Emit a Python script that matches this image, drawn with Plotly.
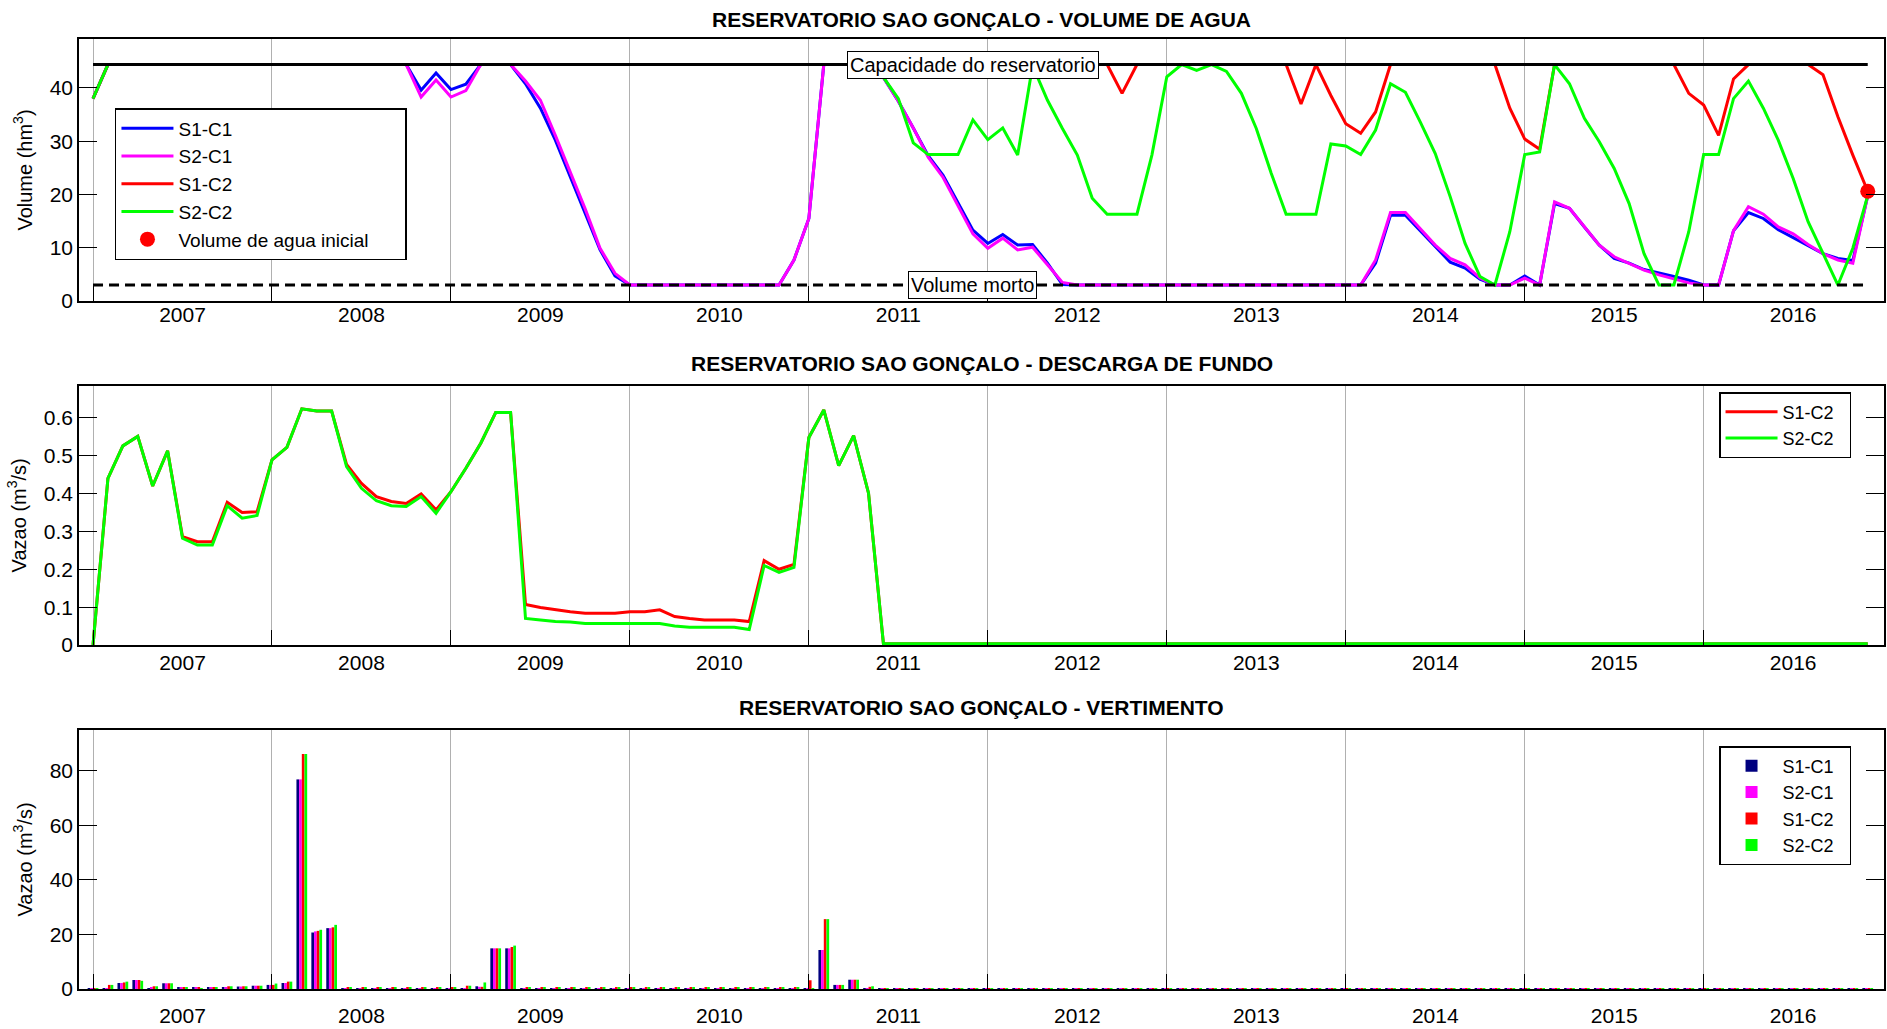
import plotly.graph_objects as go

# ---------------- data ----------------
years = ["2007", "2008", "2009", "2010", "2011", "2012", "2013", "2014", "2015", "2016"]
months = list(range(120))          # month index: 0 = Jan 2007 ... 119 = Dec 2016

capacity = 44.4                    # Capacidade do reservatorio (hm3)
dead_volume = 3.0                  # Volume morto (hm3)
initial_month = [119]
initial_volume = [20.6]

# Volume de agua (hm3)
vol_s1c1 = [
    38.0, 44.4, 44.4, 44.4, 44.4, 44.4, 44.4, 44.4, 44.4, 44.4, 44.4, 44.4,
    44.4, 44.4, 44.4, 44.4, 44.4, 44.4, 44.4, 44.4, 44.4, 44.4, 39.6, 42.8,
    39.7, 40.7, 44.4, 44.4, 44.4, 40.8, 36.2, 30.2, 23.3, 16.4, 9.6, 4.7,
    3.0, 3.0, 3.0, 3.0, 3.0, 3.0, 3.0, 3.0, 3.0, 3.0, 3.0, 7.7,
    15.5, 44.4, 44.4, 44.4, 44.4, 42.0, 37.5, 32.5, 27.3, 23.6, 18.3, 13.3,
    10.8, 12.5, 10.5, 10.6, 7.1, 3.1, 3.0, 3.0, 3.0, 3.0, 3.0, 3.0,
    3.0, 3.0, 3.0, 3.0, 3.0, 3.0, 3.0, 3.0, 3.0, 3.0, 3.0, 3.0,
    3.0, 3.0, 7.1, 16.1, 16.1, 13.2, 10.1, 7.3, 6.2, 4.1, 3.0, 3.0,
    4.7, 3.0, 18.3, 17.4, 13.9, 10.5, 8.0, 7.1, 5.9, 5.3, 4.6, 3.9,
    3.0, 3.0, 13.2, 16.6, 15.5, 13.4, 11.9, 10.3, 8.9, 8.0, 7.6, 19.8,
]
vol_s2c1 = [
    38.0, 44.4, 44.4, 44.4, 44.4, 44.4, 44.4, 44.4, 44.4, 44.4, 44.4, 44.4,
    44.4, 44.4, 44.4, 44.4, 44.4, 44.4, 44.4, 44.4, 44.4, 44.4, 38.3, 41.5,
    38.3, 39.5, 44.4, 44.4, 44.4, 41.3, 37.7, 31.1, 24.2, 17.3, 9.9, 5.2,
    3.0, 3.0, 3.0, 3.0, 3.0, 3.0, 3.0, 3.0, 3.0, 3.0, 3.0, 7.7,
    15.5, 44.4, 44.4, 44.4, 44.4, 42.0, 37.5, 32.5, 27.0, 23.2, 17.9, 12.6,
    9.9, 11.8, 9.6, 10.1, 6.8, 3.5, 3.0, 3.0, 3.0, 3.0, 3.0, 3.0,
    3.0, 3.0, 3.0, 3.0, 3.0, 3.0, 3.0, 3.0, 3.0, 3.0, 3.0, 3.0,
    3.0, 3.0, 7.7, 16.6, 16.6, 13.6, 10.5, 8.0, 6.8, 4.3, 3.0, 3.0,
    4.3, 3.0, 18.6, 17.4, 13.9, 10.5, 8.3, 7.1, 5.8, 4.9, 4.1, 3.4,
    3.0, 3.0, 13.2, 17.7, 16.3, 13.9, 12.6, 10.6, 8.9, 7.7, 7.1, 19.8,
]
vol_s1c2 = [
    38.0, 44.4, 44.4, 44.4, 44.4, 44.4, 44.4, 44.4, 44.4, 44.4, 44.4, 44.4,
    44.4, 44.4, 44.4, 44.4, 44.4, 44.4, 44.4, 44.4, 44.4, 44.4, 44.4, 44.4,
    44.4, 44.4, 44.4, 44.4, 44.4, 44.4, 44.4, 44.4, 44.4, 44.4, 44.4, 44.4,
    44.4, 44.4, 44.4, 44.4, 44.4, 44.4, 44.4, 44.4, 44.4, 44.4, 44.4, 44.4,
    44.4, 44.4, 44.4, 44.4, 44.4, 44.4, 44.4, 44.4, 44.4, 44.4, 44.4, 44.4,
    44.4, 44.4, 44.4, 44.4, 44.4, 44.4, 44.4, 44.4, 44.4, 39.0, 44.4, 44.4,
    44.4, 44.4, 44.4, 44.4, 44.4, 44.4, 44.4, 44.4, 44.4, 37.0, 44.4, 38.6,
    33.3, 31.5, 35.5, 44.4, 44.4, 44.4, 44.4, 44.4, 44.4, 44.4, 44.4, 36.2,
    30.4, 28.5, 44.4, 44.4, 44.4, 44.4, 44.4, 44.4, 44.4, 44.4, 44.4, 39.0,
    36.8, 31.1, 41.7, 44.4, 44.4, 44.4, 44.4, 44.4, 42.5, 34.6, 27.4, 20.6,
]
vol_s2c2 = [
    38.0, 44.4, 44.4, 44.4, 44.4, 44.4, 44.4, 44.4, 44.4, 44.4, 44.4, 44.4,
    44.4, 44.4, 44.4, 44.4, 44.4, 44.4, 44.4, 44.4, 44.4, 44.4, 44.4, 44.4,
    44.4, 44.4, 44.4, 44.4, 44.4, 44.4, 44.4, 44.4, 44.4, 44.4, 44.4, 44.4,
    44.4, 44.4, 44.4, 44.4, 44.4, 44.4, 44.4, 44.4, 44.4, 44.4, 44.4, 44.4,
    44.4, 44.4, 44.4, 44.4, 44.4, 42.0, 38.0, 29.7, 27.5, 27.5, 27.5, 34.0,
    30.3, 32.5, 27.4, 44.2, 37.7, 32.4, 27.4, 19.3, 16.3, 16.3, 16.3, 27.4,
    42.1, 44.4, 43.3, 44.4, 43.1, 39.0, 32.4, 24.0, 16.3, 16.3, 16.3, 29.5,
    29.1, 27.5, 32.1, 40.8, 39.2, 33.6, 27.7, 19.6, 10.8, 4.6, 3.0, 13.0,
    27.5, 28.0, 44.4, 40.8, 34.3, 29.9, 24.9, 18.3, 8.9, 3.0, 3.0, 13.0,
    27.5, 27.5, 38.0, 41.3, 36.2, 30.2, 23.0, 14.9, 8.9, 3.0, 9.9, 19.8,
]

# Descarga de fundo (m3/s)
desc_s1c2 = [
    0.0, 0.44, 0.526, 0.551, 0.42, 0.513, 0.286, 0.273, 0.273, 0.377, 0.350, 0.352,
    0.489, 0.522, 0.624, 0.618, 0.618, 0.477, 0.427, 0.392, 0.379, 0.374, 0.399, 0.357,
    0.405, 0.467, 0.533, 0.614, 0.614, 0.107, 0.099, 0.093, 0.088, 0.084, 0.084, 0.084,
    0.088, 0.088, 0.093, 0.075, 0.070, 0.066, 0.066, 0.066, 0.062, 0.223, 0.200, 0.213,
    0.548, 0.621, 0.474, 0.553, 0.401, 0.003, 0.003, 0.003, 0.003, 0.003, 0.003, 0.003,
    0.003, 0.003, 0.003, 0.003, 0.003, 0.003, 0.003, 0.003, 0.003, 0.003, 0.003, 0.003,
    0.003, 0.003, 0.003, 0.003, 0.003, 0.003, 0.003, 0.003, 0.003, 0.003, 0.003, 0.003,
    0.003, 0.003, 0.003, 0.003, 0.003, 0.003, 0.003, 0.003, 0.003, 0.003, 0.003, 0.003,
    0.003, 0.003, 0.003, 0.003, 0.003, 0.003, 0.003, 0.003, 0.003, 0.003, 0.003, 0.003,
    0.003, 0.003, 0.003, 0.003, 0.003, 0.003, 0.003, 0.003, 0.003, 0.003, 0.003, 0.003,
]
desc_s2c2 = [
    0.0, 0.44, 0.526, 0.551, 0.42, 0.513, 0.282, 0.264, 0.264, 0.368, 0.335, 0.342,
    0.489, 0.522, 0.624, 0.618, 0.618, 0.471, 0.414, 0.381, 0.368, 0.366, 0.392, 0.348,
    0.405, 0.467, 0.533, 0.614, 0.614, 0.070, 0.066, 0.062, 0.061, 0.057, 0.057, 0.057,
    0.057, 0.057, 0.057, 0.050, 0.047, 0.047, 0.047, 0.047, 0.041, 0.210, 0.192, 0.205,
    0.548, 0.621, 0.474, 0.553, 0.401, 0.003, 0.003, 0.003, 0.003, 0.003, 0.003, 0.003,
    0.003, 0.003, 0.003, 0.003, 0.003, 0.003, 0.003, 0.003, 0.003, 0.003, 0.003, 0.003,
    0.003, 0.003, 0.003, 0.003, 0.003, 0.003, 0.003, 0.003, 0.003, 0.003, 0.003, 0.003,
    0.003, 0.003, 0.003, 0.003, 0.003, 0.003, 0.003, 0.003, 0.003, 0.003, 0.003, 0.003,
    0.003, 0.003, 0.003, 0.003, 0.003, 0.003, 0.003, 0.003, 0.003, 0.003, 0.003, 0.003,
    0.003, 0.003, 0.003, 0.003, 0.003, 0.003, 0.003, 0.003, 0.003, 0.003, 0.003, 0.003,
]

# Vertimento (m3/s)
vert_s1c1 = [
    0.1, 0.3, 2.2, 3.3, 0.2, 2.1, 0.5, 0.4, 0.4, 0.4, 0.9, 1.2,
    1.5, 2.2, 76.8, 20.7, 22.3, 0.1, 0.1, 0.1, 0.1, 0.1, 0.1, 0.1,
    0.1, 0.1, 1.0, 14.9, 14.9, 0.1, 0.1, 0.1, 0.1, 0.1, 0.1, 0.1,
    0.1, 0.1, 0.1, 0.1, 0.1, 0.1, 0.1, 0.1, 0.1, 0.1, 0.1, 0.1,
    0.1, 14.3, 1.5, 3.4, 0.3, 0.1, 0.1, 0.1, 0.1, 0.1, 0.1, 0.1,
    0.1, 0.1, 0.1, 0.1, 0.1, 0.1, 0.1, 0.1, 0.1, 0.1, 0.1, 0.1,
    0.1, 0.1, 0.1, 0.1, 0.1, 0.1, 0.1, 0.1, 0.1, 0.1, 0.1, 0.1,
    0.1, 0.1, 0.1, 0.1, 0.1, 0.1, 0.1, 0.1, 0.1, 0.1, 0.1, 0.1,
    0.1, 0.1, 0.1, 0.1, 0.1, 0.1, 0.1, 0.1, 0.1, 0.1, 0.1, 0.1,
    0.1, 0.1, 0.1, 0.1, 0.1, 0.1, 0.1, 0.1, 0.1, 0.1, 0.1, 0.1,
]
vert_s2c1 = [
    0.1, 0.3, 2.2, 3.3, 0.6, 2.1, 0.5, 0.5, 0.4, 0.5, 0.9, 1.2,
    1.5, 2.2, 76.8, 21.1, 22.3, 0.3, 0.3, 0.3, 0.3, 0.3, 0.3, 0.3,
    0.2, 0.2, 0.8, 14.9, 14.9, 0.2, 0.2, 0.2, 0.2, 0.2, 0.2, 0.2,
    0.2, 0.2, 0.2, 0.2, 0.2, 0.2, 0.2, 0.2, 0.2, 0.2, 0.2, 0.2,
    0.1, 14.3, 1.5, 3.4, 0.3, 0.1, 0.1, 0.1, 0.1, 0.1, 0.1, 0.1,
    0.1, 0.1, 0.1, 0.1, 0.1, 0.1, 0.1, 0.1, 0.1, 0.1, 0.1, 0.1,
    0.1, 0.1, 0.1, 0.1, 0.1, 0.1, 0.1, 0.1, 0.1, 0.1, 0.1, 0.1,
    0.1, 0.1, 0.1, 0.1, 0.1, 0.1, 0.1, 0.1, 0.1, 0.1, 0.1, 0.1,
    0.1, 0.1, 0.1, 0.1, 0.1, 0.1, 0.1, 0.1, 0.1, 0.1, 0.1, 0.1,
    0.1, 0.1, 0.1, 0.1, 0.1, 0.1, 0.1, 0.1, 0.1, 0.1, 0.1, 0.1,
]
vert_s1c2 = [
    0.2, 1.5, 2.4, 3.3, 1.0, 2.1, 0.5, 0.5, 0.6, 1.0, 1.0, 1.2,
    1.5, 2.7, 86.1, 21.3, 22.6, 0.7, 0.7, 0.7, 0.7, 0.7, 0.7, 0.7,
    0.7, 1.2, 0.8, 14.9, 15.4, 0.5, 0.5, 0.5, 0.5, 0.5, 0.5, 0.5,
    0.4, 0.4, 0.4, 0.4, 0.4, 0.4, 0.4, 0.4, 0.4, 0.4, 0.4, 0.4,
    3.2, 25.6, 1.5, 3.4, 0.8, 0.3, 0.3, 0.3, 0.3, 0.3, 0.3, 0.3,
    0.3, 0.3, 0.3, 0.3, 0.3, 0.3, 0.3, 0.3, 0.3, 0.3, 0.3, 0.3,
    0.3, 0.3, 0.3, 0.3, 0.3, 0.3, 0.3, 0.3, 0.3, 0.3, 0.3, 0.3,
    0.3, 0.3, 0.3, 0.3, 0.3, 0.3, 0.3, 0.3, 0.3, 0.3, 0.3, 0.3,
    0.3, 0.3, 0.3, 0.3, 0.3, 0.3, 0.3, 0.3, 0.3, 0.3, 0.3, 0.3,
    0.3, 0.3, 0.3, 0.3, 0.3, 0.3, 0.3, 0.3, 0.3, 0.3, 0.3, 0.3,
]
vert_s2c2 = [
    0.2, 1.5, 2.7, 3.0, 1.0, 2.1, 0.5, 0.3, 0.6, 1.0, 1.0, 1.2,
    2.0, 2.7, 86.1, 21.7, 23.5, 0.7, 0.7, 0.7, 0.7, 0.7, 0.7, 0.7,
    0.7, 1.2, 2.4, 14.9, 15.9, 0.5, 0.5, 0.5, 0.5, 0.5, 0.5, 0.5,
    0.4, 0.4, 0.4, 0.4, 0.4, 0.4, 0.4, 0.4, 0.4, 0.4, 0.4, 0.4,
    0.3, 25.6, 1.5, 3.4, 1.0, 0.3, 0.3, 0.3, 0.3, 0.3, 0.3, 0.3,
    0.2, 0.2, 0.2, 0.2, 0.2, 0.2, 0.2, 0.2, 0.2, 0.2, 0.2, 0.2,
    0.2, 0.2, 0.2, 0.2, 0.2, 0.2, 0.2, 0.2, 0.2, 0.2, 0.2, 0.2,
    0.2, 0.2, 0.2, 0.2, 0.2, 0.2, 0.2, 0.2, 0.2, 0.2, 0.2, 0.2,
    0.2, 0.2, 0.2, 0.2, 0.2, 0.2, 0.2, 0.2, 0.2, 0.2, 0.2, 0.2,
    0.2, 0.2, 0.2, 0.2, 0.2, 0.2, 0.2, 0.2, 0.2, 0.2, 0.2, 0.2,
]

titles = [
    "RESERVATORIO SAO GONÇALO - VOLUME DE AGUA",
    "RESERVATORIO SAO GONÇALO - DESCARGA DE FUNDO",
    "RESERVATORIO SAO GONÇALO - VERTIMENTO",
]

# ---------------- styling ----------------
W, H = 1887, 1029
ML, MR, MT, MB = 79, 1, 39, 40
PLOT_H = H - MT - MB
PLOT_W = W - ML - MR
FONT = "Liberation Sans, Arial, Helvetica, sans-serif"
NBSP = "\u00a0"


def py(px):
    """pixel y (from top) -> paper y"""
    return (H - MB - px) / PLOT_H


def px_x(px):
    """pixel x (from left) -> paper x"""
    return (px - ML) / PLOT_W


C_BLUE, C_MAG, C_RED, C_GREEN, C_NAVY = "#0000FF", "#FF00FF", "#FF0000", "#00FF00", "#00007F"
LW = 3

fig = go.Figure()

# ---- top: volume ----
for name, vals, col in [("S1-C1", vol_s1c1, C_BLUE), ("S2-C1", vol_s2c1, C_MAG),
                        ("S1-C2", vol_s1c2, C_RED), ("S2-C2", vol_s2c2, C_GREEN)]:
    fig.add_trace(go.Scatter(x=months, y=vals, mode="lines", name=name,
                             line=dict(color=col, width=LW), xaxis="x", yaxis="y",
                             legend="legend"))
fig.add_trace(go.Scatter(x=[months[0], months[-1]], y=[capacity, capacity], mode="lines",
                         line=dict(color="black", width=3), showlegend=False,
                         xaxis="x", yaxis="y", hoverinfo="skip"))
fig.add_trace(go.Scatter(x=[months[0], months[-1]], y=[dead_volume, dead_volume], mode="lines",
                         line=dict(color="black", width=3, dash="10px,6px"), showlegend=False,
                         xaxis="x", yaxis="y", hoverinfo="skip"))
fig.add_trace(go.Scatter(x=initial_month, y=initial_volume, mode="markers",
                         name="Volume de agua inicial" + NBSP * 6,
                         marker=dict(color=C_RED, size=15), xaxis="x", yaxis="y",
                         legend="legend", cliponaxis=False))

# ---- middle: descarga de fundo ----
for name, vals, col in [("S1-C2", desc_s1c2, C_RED), ("S2-C2", desc_s2c2, C_GREEN)]:
    fig.add_trace(go.Scatter(x=months, y=vals, mode="lines", name=name + NBSP * 2,
                             line=dict(color=col, width=LW), xaxis="x2", yaxis="y2",
                             legend="legend2"))

# ---- bottom: vertimento ----
for name, vals, col in [("S1-C1", vert_s1c1, C_NAVY), ("S2-C1", vert_s2c1, C_MAG),
                        ("S1-C2", vert_s1c2, C_RED), ("S2-C2", vert_s2c2, C_GREEN)]:
    fig.add_trace(go.Bar(x=months, y=vals, name=name + NBSP * 2,
                         marker=dict(color=col, line=dict(width=0)),
                         xaxis="x3", yaxis="y3", legend="legend3"))

# ---------------- axes ----------------
tick_font = dict(family=FONT, size=21, color="black")
x_common = dict(
    range=[-0.94, 120.09],
    tickmode="array", tickvals=[6 + 12 * i for i in range(len(years))], ticktext=years,
    ticks="", showgrid=False, zeroline=False,
    showline=True, linecolor="black", linewidth=1.5, mirror=True,
    tickfont=tick_font,
    minor=dict(tickmode="array", tickvals=[12 * i for i in range(len(years))],
               showgrid=True, gridcolor="#b0b0b0", gridwidth=1,
               ticks="inside", ticklen=15, tickcolor="black", tickwidth=1),
)
y_common = dict(
    showgrid=False, zeroline=False, showline=True, linecolor="black", linewidth=1.5,
    mirror="allticks", ticks="inside", ticklen=18, tickcolor="black", tickwidth=1,
    tickfont=tick_font,
    title=dict(font=dict(family=FONT, size=20, color="black"), standoff=12),
)

dom_top = [py(301), 1.0]
dom_mid = [py(645), py(385.7)]
dom_bot = [0.0, py(730)]

legend_common = dict(bgcolor="white", bordercolor="black", borderwidth=1.5,
                     itemwidth=52, tracegroupgap=0)

fig.update_layout(
    xaxis=dict(x_common, domain=[0, 1], anchor="y", ticklabelstandoff=-6),
    yaxis=dict(y_common, domain=dom_top, anchor="x", range=[0, 49.2], dtick=10,
               title=dict(y_common["title"], text="Volume (hm<sup>3</sup>)")),
    xaxis2=dict(x_common, domain=[0, 1], anchor="y2", ticklabelstandoff=-2),
    yaxis2=dict(y_common, domain=dom_mid, anchor="x2", range=[0, 0.685], dtick=0.1,
                title=dict(y_common["title"], text="Vazao (m<sup>3</sup>/s)")),
    xaxis3=dict(x_common, domain=[0, 1], anchor="y3", ticklabelstandoff=7),
    yaxis3=dict(y_common, domain=dom_bot, anchor="x3", range=[0, 94.9], dtick=20,
                title=dict(y_common["title"], text="Vazao (m<sup>3</sup>/s)")),
    barmode="group", bargap=0.28, bargroupgap=0.0,
    width=W, height=H,
    margin=dict(l=ML, r=MR, t=MT, b=MB, pad=0),
    paper_bgcolor="white", plot_bgcolor="white",
    font=dict(family=FONT, color="black"),
    showlegend=True,
    legend=dict(legend_common, x=px_x(115), y=py(108), xanchor="left", yanchor="top",
                font=dict(family=FONT, size=19, color="black")),
    legend2=dict(legend_common, x=px_x(1853), y=py(392), xanchor="right", yanchor="top",
                 font=dict(family=FONT, size=18, color="black")),
    legend3=dict(legend_common, x=px_x(1853), y=py(746), xanchor="right", yanchor="top",
                 font=dict(family=FONT, size=18, color="black")),
)

annotations = []
for t, ypx in zip(titles, [19.3, 363.4, 707.6]):
    annotations.append(dict(text="<b>" + t + "</b>", x=0.5, y=py(ypx), xref="paper", yref="paper",
                            xanchor="center", yanchor="middle", showarrow=False,
                            font=dict(family=FONT, size=21, color="black")))
annotations.append(dict(text="Capacidade do reservatorio", x=59, y=capacity, xref="x", yref="y",
                        xanchor="center", yanchor="middle", showarrow=False,
                        bgcolor="white", bordercolor="black", borderwidth=1, borderpad=2,
                        font=dict(family=FONT, size=20, color="black")))
annotations.append(dict(text="Volume morto", x=59, y=dead_volume, xref="x", yref="y",
                        xanchor="center", yanchor="middle", showarrow=False,
                        bgcolor="white", bordercolor="black", borderwidth=1, borderpad=2,
                        font=dict(family=FONT, size=20, color="black")))
fig.update_layout(annotations=annotations)

fig.write_html("out.html", config={"displayModeBar": False},
               post_script="document.body.style.margin='0';document.body.style.overflow='hidden';")
